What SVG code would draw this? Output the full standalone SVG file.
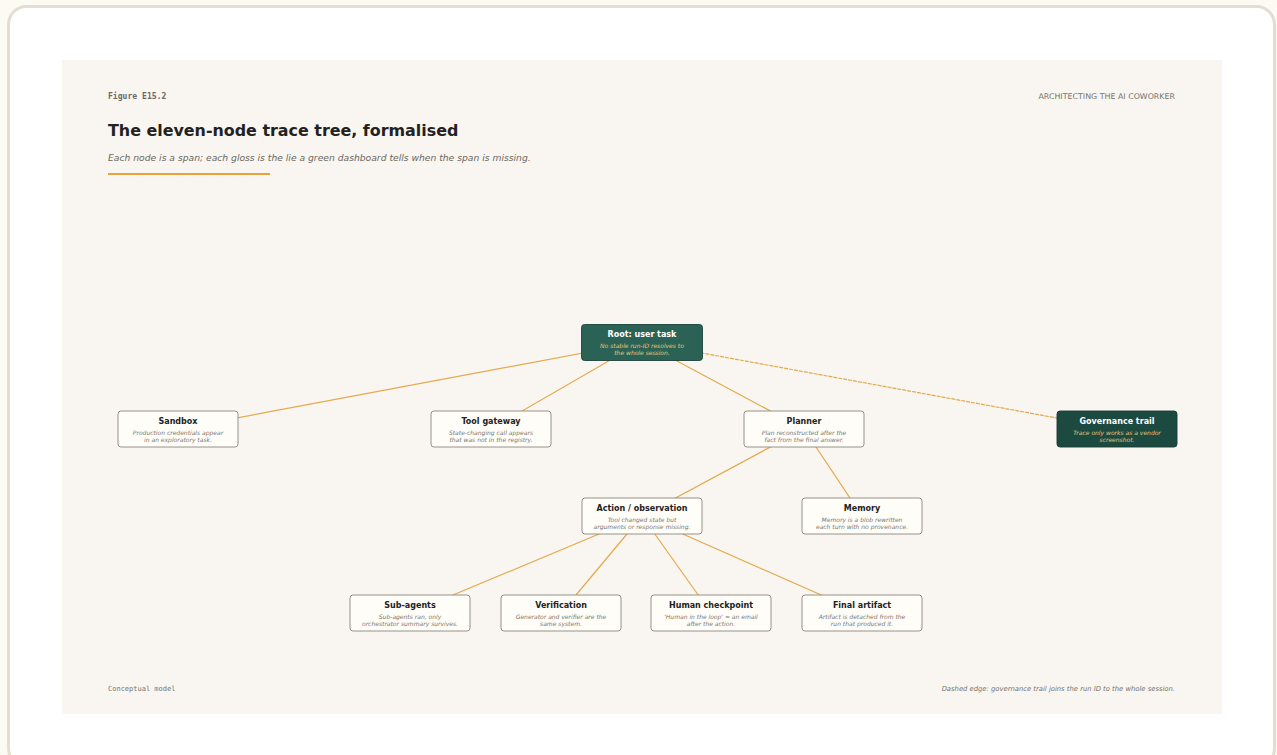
<svg xmlns="http://www.w3.org/2000/svg" width="1277" height="755" viewBox="0 0 1277 755">
<style>
.node rect{fill:#fffdf8;stroke:#8b877f;stroke-width:0.9}
.dark rect{fill:#2a6356;stroke:#1d4239}
.darker rect{fill:#1d4a40;stroke:#163a32}
.t{font-family:"DejaVu Sans",sans-serif;font-weight:bold;font-size:8px;fill:#222;text-anchor:middle}
.g{font-family:"DejaVu Sans",sans-serif;font-style:italic;font-size:6px;fill:#7a7670;text-anchor:middle}
.dark .t,.darker .t{fill:#ffffff}
.dark .g,.darker .g{fill:#e8c57a}
.e{stroke:#e4a94c;stroke-width:1.2;fill:none}
</style>
<rect x="0" y="0" width="1277" height="755" fill="#fbfaf3"/>
<rect x="8.5" y="6.5" width="1266" height="760" rx="18" fill="#ffffff" stroke="#e2dfd2" stroke-width="3"/>
<rect x="62" y="60" width="1160" height="654" fill="#f9f6f1"/>
<text x="108" y="99" font-family="DejaVu Sans Mono,monospace" font-weight="bold" font-size="8.1" fill="#6d6a66">Figure E15.2</text>
<text x="1175" y="99" font-family="DejaVu Sans,sans-serif" font-size="7.9" fill="#77736d" text-anchor="end">ARCHITECTING THE AI COWORKER</text>
<text x="108" y="136" font-family="DejaVu Sans,sans-serif" font-weight="bold" font-size="15.9" fill="#222">The eleven-node trace tree, formalised</text>
<text x="108" y="161" font-family="DejaVu Sans,sans-serif" font-style="italic" font-size="9.2" fill="#6b6660">Each node is a span; each gloss is the lie a green dashboard tells when the span is missing.</text>
<rect x="108" y="173" width="162" height="2" fill="#e8a23a"/>
<g id="connectors">
<line class="e" x1="641.5" y1="342" x2="178" y2="429"/>
<line class="e" x1="641.5" y1="342" x2="491" y2="429"/>
<line class="e" x1="641.5" y1="342" x2="804" y2="429"/>
<line class="e" x1="641.5" y1="342" x2="1117" y2="429" stroke-dasharray="4 1" stroke="#b98a45"/>
<line class="e" x1="804" y1="429" x2="642" y2="516"/>
<line class="e" x1="804" y1="429" x2="862" y2="516"/>
<line class="e" x1="642" y1="516" x2="410" y2="613"/>
<line class="e" x1="642" y1="516" x2="561" y2="613"/>
<line class="e" x1="642" y1="516" x2="711" y2="613"/>
<line class="e" x1="642" y1="516" x2="862" y2="613"/>
</g>
<g id="root" class="node dark"><rect x="581.5" y="324.5" width="121" height="36" rx="3"/><text class="t" x="642" y="337">Root: user task</text><text class="g" x="642" y="348">No stable run-ID resolves to</text><text class="g" x="642" y="355">the whole session.</text></g>
<g id="sandbox" class="node"><rect x="118" y="411" width="120" height="36" rx="3"/><text class="t" x="178" y="424">Sandbox</text><text class="g" x="178" y="435">Production credentials appear</text><text class="g" x="178" y="442">in an exploratory task.</text></g>
<g id="toolgateway" class="node"><rect x="431" y="411" width="120" height="36" rx="3"/><text class="t" x="491" y="424">Tool gateway</text><text class="g" x="491" y="435">State-changing call appears</text><text class="g" x="491" y="442">that was not in the registry.</text></g>
<g id="planner" class="node"><rect x="744" y="411" width="120" height="36" rx="3"/><text class="t" x="804" y="424">Planner</text><text class="g" x="804" y="435">Plan reconstructed after the</text><text class="g" x="804" y="442">fact from the final answer.</text></g>
<g id="governance" class="node darker"><rect x="1057" y="411" width="120" height="36" rx="3"/><text class="t" x="1117" y="424">Governance trail</text><text class="g" x="1117" y="435">Trace only works as a vendor</text><text class="g" x="1117" y="442">screenshot.</text></g>
<g id="action" class="node"><rect x="582" y="498" width="120" height="36" rx="3"/><text class="t" x="642" y="511">Action / observation</text><text class="g" x="642" y="522">Tool changed state but</text><text class="g" x="642" y="529">arguments or response missing.</text></g>
<g id="memory" class="node"><rect x="802" y="498" width="120" height="36" rx="3"/><text class="t" x="862" y="511">Memory</text><text class="g" x="862" y="522">Memory is a blob rewritten</text><text class="g" x="862" y="529">each turn with no provenance.</text></g>
<g id="subagents" class="node"><rect x="350" y="595" width="120" height="36" rx="3"/><text class="t" x="410" y="608">Sub-agents</text><text class="g" x="410" y="619">Sub-agents ran, only</text><text class="g" x="410" y="626">orchestrator summary survives.</text></g>
<g id="verification" class="node"><rect x="501" y="595" width="120" height="36" rx="3"/><text class="t" x="561" y="608">Verification</text><text class="g" x="561" y="619">Generator and verifier are the</text><text class="g" x="561" y="626">same system.</text></g>
<g id="human" class="node"><rect x="651" y="595" width="120" height="36" rx="3"/><text class="t" x="711" y="608">Human checkpoint</text><text class="g" x="711" y="619">'Human in the loop' = an email</text><text class="g" x="711" y="626">after the action.</text></g>
<g id="final" class="node"><rect x="802" y="595" width="120" height="36" rx="3"/><text class="t" x="862" y="608">Final artifact</text><text class="g" x="862" y="619">Artifact is detached from the</text><text class="g" x="862" y="626">run that produced it.</text></g>
<text x="108" y="691" font-family="DejaVu Sans Mono,monospace" font-size="7" fill="#77736d">Conceptual model</text>
<text x="1175" y="691" font-family="DejaVu Sans,sans-serif" font-style="italic" font-size="6.8" fill="#77736d" text-anchor="end">Dashed edge: governance trail joins the run ID to the whole session.</text>
</svg>
